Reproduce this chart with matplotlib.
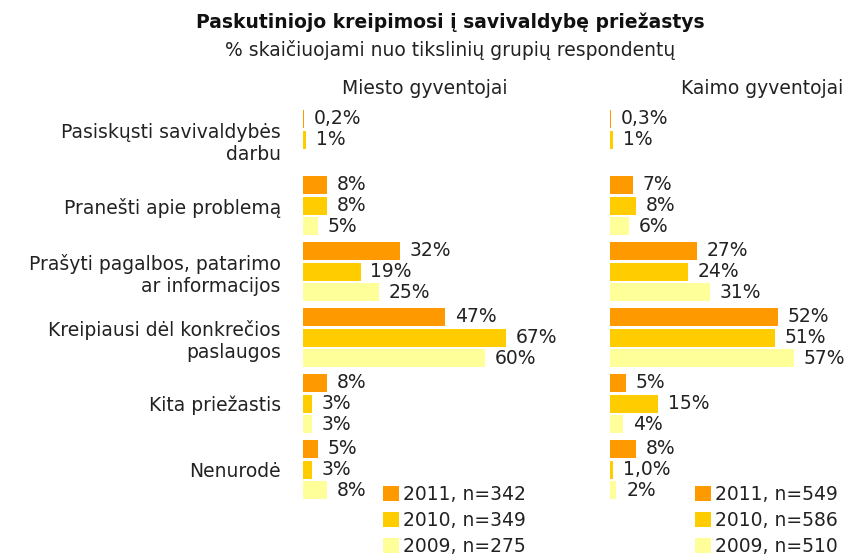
import numpy as np
import matplotlib
matplotlib.use("Agg")
import matplotlib.pyplot as plt
from matplotlib.patches import Patch

plt.rcParams['font.family'] = ['DejaVu Sans']

# Data
categories = ["Pasiskųsti savivaldybės\ndarbu", "Pranešti apie problemą",
              "Prašyti pagalbos, patarimo\nar informacijos",
              "Kreipiausi dėl konkrečios\npaslaugos", "Kita priežastis", "Nenurodė"]
years = ["2011", "2010", "2009"]
colors = ["#FF9900", "#FFCC00", "#FFFF99"]

city_2011 = [0.2, 8, 32, 47, 8, 5]
city_2010 = [1, 8, 19, 67, 3, 3]
city_2009 = [np.nan, 5, 25, 60, 3, 8]
city_n = [342, 349, 275]

rural_2011 = [0.3, 7, 27, 52, 5, 8]
rural_2010 = [1, 8, 24, 51, 15, 1.0]
rural_2009 = [np.nan, 6, 31, 57, 4, 2]
rural_n = [549, 586, 510]

FS = 13.5
TXT = '#222222'

def fmt(v):
    if v < 1:
        return f"{v:.1f}".replace(".", ",") + "%"
    return f"{v:.0f}%"

W, H = 850, 556
fig = plt.figure(figsize=(W / 100, H / 100), dpi=100)

def px_axes(x0, x1, y0, y1):
    return fig.add_axes([x0 / W, 1 - y1 / H, (x1 - x0) / W, (y1 - y0) / H])

group_pitch = 66
slot = 20.5
bar_h = 18

def panel(ax, series, xmax, rural):
    centers = np.arange(len(categories)) * group_pitch
    for k, (vals, c) in enumerate(zip(series, colors)):
        ys = centers + (k - 1) * slot
        for i, (y, v) in enumerate(zip(ys, vals)):
            if np.isnan(v):
                continue
            ax.barh(y, v, height=bar_h, color=c, edgecolor='none')
            # the rural "Nenurodė" 2010 value is printed with one decimal
            lab = "1,0%" if (rural and i == 5 and k == 1) else fmt(v)
            ax.annotate(lab, (v, y), xytext=(7, 0), textcoords='offset points',
                        va='center', ha='left', fontsize=FS, color=TXT)
    ax.set_xlim(0, xmax)
    ax.set_ylim(365.5, -39.5)
    for s in ax.spines.values():
        s.set_visible(False)
    ax.set_xticks([])
    return centers

axL = px_axes(303, 303 + 80 * 3.03, 100, 505)
centers = panel(axL, [city_2011, city_2010, city_2009], 80, False)
axL.set_yticks(centers)
axL.set_yticklabels(categories, fontsize=FS, color=TXT)
axL.tick_params(axis='y', length=0, pad=16)

axR = px_axes(610, 610 + 70 * 3.23, 100, 505)
panel(axR, [rural_2011, rural_2010, rural_2009], 70, True)
axR.set_yticks([])

fig.text(450 / W, 1 - 22 / H, "Paskutiniojo kreipimosi į savivaldybę priežastys",
         ha='center', va='center', fontsize=FS, fontweight='bold', color='#111111')
fig.text(450 / W, 1 - 50 / H, "% skaičiuojami nuo tikslinių grupių respondentų",
         ha='center', va='center', fontsize=FS, color=TXT)
fig.text(425 / W, 1 - 88 / H, "Miesto gyventojai", ha='center', va='center',
         fontsize=FS, color=TXT)
fig.text(762 / W, 1 - 88 / H, "Kaimo gyventojai", ha='center', va='center',
         fontsize=FS, color=TXT)

def legend_at(x, y, ns):
    handles = [Patch(facecolor=c, edgecolor='none') for c in colors]
    labels = [f"{yr}, n={n}" for yr, n in zip(years, ns)]
    fig.legend(handles, labels, loc='upper left', bbox_to_anchor=(x / W, 1 - y / H),
               frameon=False, fontsize=FS, handlelength=0.85, handleheight=0.85,
               handletextpad=0.2, labelspacing=0.38, borderpad=0, borderaxespad=0,
               labelcolor=TXT)

legend_at(383, 485, city_n)
legend_at(695, 485, rural_n)

fig.savefig("out.png", dpi=100)
